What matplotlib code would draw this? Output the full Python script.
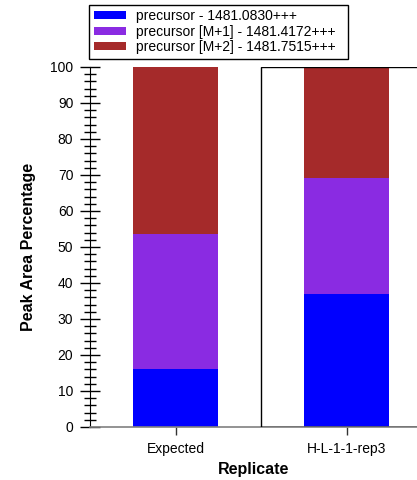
import matplotlib.pyplot as plt
from matplotlib.patches import Rectangle
import numpy as np

plt.rcParams['font.family'] = ['Liberation Sans', 'DejaVu Sans']

# data
replicates = ['Expected', 'H-L-1-1-rep3']
series = ['precursor - 1481.0830+++',
          'precursor [M+1] - 1481.4172+++',
          'precursor [M+2] - 1481.7515+++']
precursor = [16.1, 36.9]
precursor_m1 = [37.5, 32.3]
precursor_m2 = [46.4, 30.8]
colors = ['#0000FF', '#8A2BE2', '#A52A2A']

W, H = 417, 480
fig = plt.figure(figsize=(W / 100, H / 100), dpi=100)
ax = fig.add_axes([90 / W, 53 / H, 327 / W, 360 / H])

x = np.arange(len(replicates))
bottom = np.zeros(len(replicates))
for vals, lab, col in zip([precursor, precursor_m1, precursor_m2], series, colors):
    ax.bar(x, vals, width=0.5, bottom=bottom, color=col, label=lab, zorder=2)
    bottom += np.array(vals)

# selected replicate frame
ax.add_patch(Rectangle((0.5, 0), 2, 100, fill=False, ec='black', lw=1, zorder=3, clip_on=True))

ax.set_xlim(-0.5, -0.5 + 327 / 171)
ax.set_ylim(0, 100)
ax.set_xticks(x)
ax.set_xticklabels(replicates, fontsize=10)
ax.set_yticks(np.arange(0, 101, 10))
ax.set_yticks(np.arange(0, 101, 2), minor=True)
ax.tick_params(axis='y', which='major', direction='inout', length=14, width=1, labelsize=10, pad=5)
ax.tick_params(axis='y', which='minor', direction='inout', length=8, width=1)
ax.tick_params(axis='x', direction='out', length=6, width=1, color='#333333', pad=5)

for s in ['top', 'right']:
    ax.spines[s].set_visible(False)
ax.spines['left'].set_color('black')
ax.spines['bottom'].set_color('#808080')
ax.spines['bottom'].set_linewidth(1.2)

ax.set_xlabel('Replicate', fontsize=11.5, fontweight='bold', labelpad=4)
ax.set_ylabel('Peak Area Percentage', fontsize=11.5, fontweight='bold', labelpad=10)

# legend box drawn separately so its width matches the reference
fig.patches.append(Rectangle((89 / W, 1 - 59 / H), 259 / W, 54 / H, transform=fig.transFigure,
                             fill=True, fc='white', ec='black', lw=1, zorder=1))
leg = fig.legend(loc='upper left', bbox_to_anchor=(94 / W, 1 - 9 / H),
                 bbox_transform=fig.transFigure, borderaxespad=0, borderpad=0, fontsize=10,
                 frameon=False, handlelength=2.3, handleheight=0.5, handletextpad=0.75,
                 labelspacing=0.12)
leg.set_zorder(2)

fig.savefig('out.png', dpi=100)
